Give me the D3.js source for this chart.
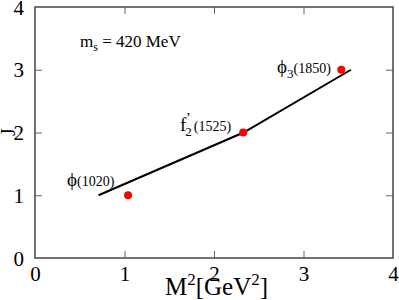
<!DOCTYPE html>
<html>
<head>
<meta charset="utf-8">
<script src="https://cdn.jsdelivr.net/npm/d3@7"></script>
<style>
  body { margin: 0; background: #fff; }
  text { font-family: "Liberation Serif", "DejaVu Serif", serif; }
</style>
</head>
<body>
<div id="chart"></div>
<script>
// data
var mesonNames = ["ϕ", "f", "ϕ"];
var mesonMass = ["(1020)", "(1525)", "(1850)"];
var mesonM2 = [1.04, 2.326, 3.4225];
var mesonJ = [1, 2, 3];

// fitted trajectory
var trajM2 = [0.71, 2.33, 3.53];
var trajJ = [1, 2, 3];

var xTicks = [0, 1, 2, 3, 4];
var yTicks = [0, 1, 2, 3, 4];

var W = 399, H = 300;
var margin = {top: 7, right: 6, bottom: 42, left: 35},
    width = W - margin.left - margin.right,
    height = H - margin.top - margin.bottom;

var svg = d3.select("#chart").append("svg")
    .attr("width", W)
    .attr("height", H);

var g = svg.append("g")
    .attr("transform", "translate(" + margin.left + "," + margin.top + ")");

var x = d3.scaleLinear().domain([0, 4]).range([0, width]);
var y = d3.scaleLinear().domain([0, 4]).range([height, 0]);

// axes, ticks pointing inward on all four sides
var xAxis = d3.axisBottom(x).tickValues(xTicks).tickSize(-7).tickPadding(10).tickFormat(d3.format("d"));
var yAxis = d3.axisLeft(y).tickValues(yTicks).tickSize(-7).tickPadding(11).tickFormat(d3.format("d"));

var gx = g.append("g").attr("transform", "translate(0," + height + ")").call(xAxis);
var gy = g.append("g").call(yAxis);
g.append("g").call(d3.axisTop(x).tickValues([1, 2, 3]).tickSize(-7).tickFormat(""));
g.append("g").attr("transform", "translate(" + width + ",0)")
    .call(d3.axisRight(y).tickValues([1, 2, 3]).tickSize(-7).tickFormat(""));

g.selectAll("g").attr("font-family", null);
g.selectAll(".domain").remove();
g.selectAll(".tick line").attr("stroke", "#666");
g.selectAll(".tick text")
    .attr("font-family", "Liberation Serif")
    .attr("font-size", 21)
    .attr("fill", "#000");
gx.selectAll(".tick line").filter(function (d) { return d === 0 || d === 4; }).remove();
gy.selectAll(".tick line").filter(function (d) { return d === 0 || d === 4; }).remove();
gx.selectAll(".tick text").attr("dy", "0.6em");
gy.selectAll(".tick text").attr("dy", "0.34em");

// frame
g.append("rect")
    .attr("width", width)
    .attr("height", height)
    .attr("fill", "none")
    .attr("stroke", "#444")
    .attr("stroke-width", 1.5);

// trajectory line
var line = d3.line()
    .x(function (d, i) { return x(trajM2[i]); })
    .y(function (d, i) { return y(trajJ[i]); });

g.append("path")
    .datum(trajM2)
    .attr("d", line)
    .attr("fill", "none")
    .attr("stroke", "#000")
    .attr("stroke-width", 2);

// meson points
g.selectAll(".dot")
    .data(mesonM2)
    .enter().append("circle")
    .attr("class", "dot")
    .attr("cx", function (d) { return x(d); })
    .attr("cy", function (d, i) { return y(mesonJ[i]); })
    .attr("r", 4)
    .attr("fill", "#ff0000");

// labels
function label(xp, yp) {
    return g.append("text")
        .attr("x", xp - margin.left)
        .attr("y", yp - margin.top)
        .attr("fill", "#000");
}

var t0 = label(67, 186);
t0.append("tspan").attr("font-size", 19).text(mesonNames[0]);
t0.append("tspan").attr("font-size", 14).text(mesonMass[0]);

var t1 = label(180, 131);
t1.append("tspan").attr("font-size", 19).text(mesonNames[1]);
t1.append("tspan").attr("font-size", 13).attr("dy", 5).attr("dx", -1).text("2");
t1.append("tspan").attr("font-size", 15).attr("dy", -13).attr("dx", -6).text("’");
t1.append("tspan").attr("font-size", 14).attr("dy", 8).attr("dx", 3).text(mesonMass[1]);

var t2 = label(277, 73);
t2.append("tspan").attr("font-size", 19).text(mesonNames[2]);
t2.append("tspan").attr("font-size", 13).attr("dy", 5).text("3");
t2.append("tspan").attr("font-size", 14).attr("dy", -5).text(mesonMass[2]);

var ms = label(80, 47);
ms.append("tspan").attr("font-size", 17).text("m");
ms.append("tspan").attr("font-size", 12).attr("dy", 4).text("s");
ms.append("tspan").attr("font-size", 17).attr("dy", -4).text(" = 420 MeV");

// axis titles
var xt = svg.append("text")
    .attr("x", 165)
    .attr("y", 295)
    .attr("fill", "#000");
xt.append("tspan").attr("font-size", 25).text("M");
xt.append("tspan").attr("font-size", 17).attr("dy", -10).text("2");
xt.append("tspan").attr("font-size", 25).attr("dy", 10).text("[GeV");
xt.append("tspan").attr("font-size", 17).attr("dy", -10).text("2");
xt.append("tspan").attr("font-size", 25).attr("dy", 10).text("]");

svg.append("text")
    .attr("transform", "translate(15,132) rotate(-90)")
    .attr("text-anchor", "middle")
    .attr("font-size", 20)
    .attr("fill", "#000")
    .text("J");
</script>
</body>
</html>
